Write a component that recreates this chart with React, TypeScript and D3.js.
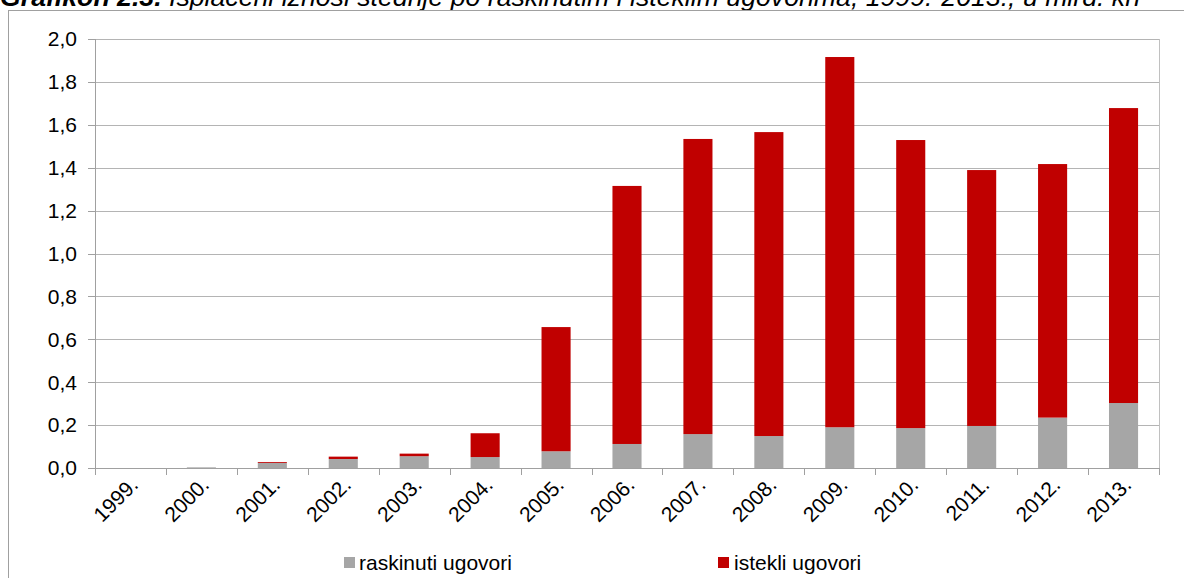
import React from "react";
import * as d3 from "d3";

const years = ["1999.", "2000.", "2001.", "2002.", "2003.", "2004.", "2005.", "2006.", "2007.", "2008.", "2009.", "2010.", "2011.", "2012.", "2013."];
const raskinuti = [0.0, 0.003, 0.024, 0.042, 0.055, 0.051, 0.078, 0.112, 0.158, 0.149, 0.19, 0.186, 0.196, 0.235, 0.303];
const istekli = [0.0, 0.0, 0.004, 0.011, 0.012, 0.111, 0.579, 1.203, 1.376, 1.417, 1.726, 1.343, 1.193, 1.182, 1.375];
const yTicks = [0, 0.2, 0.4, 0.6, 0.8, 1.0, 1.2, 1.4, 1.6, 1.8, 2.0];
const seriesNames = ["raskinuti ugovori", "istekli ugovori"];
const colors = ["#A6A6A6", "#C00000"];
const title = "Grafikon 2.3.";
const subtitle = " Isplaćeni iznosi štednje po raskinutim i isteklim ugovorima, 1999.-2013., u mlrd. kn";

export default function App() {
  const W = 1184, H = 578;
  const left = 95, right = 1159, top = 39, bottom = 468;
  const x = d3.scaleBand<string>().domain(years).range([left, right]).paddingInner(0.59).paddingOuter(0.295);
  const band = d3.scaleBand<string>().domain(years).range([left, right]);
  const y = d3.scaleLinear().domain([0, 2]).range([bottom, top]);
  const fmt = (v: number) => d3.format(".1f")(v).replace(".", ",");
  const font = "Liberation Sans, Arial, sans-serif";

  return (
    <svg width={W} height={H} style={{ position: "absolute", left: 0, top: 0 }} fontFamily={font}>
      <rect x={0} y={0} width={W} height={H} fill="#fff" />
      <text x={0} y={6} fontSize={26} fontStyle="italic" textLength={1140} lengthAdjust="spacingAndGlyphs">
        <tspan fontWeight="bold">{title}</tspan>
        <tspan>{subtitle}</tspan>
      </text>
      <rect x={8.5} y={10.5} width={1200} height={600} fill="none" stroke="#a0a0a0" strokeWidth={1} />
      {yTicks.map((t) => (
        <g key={t}>
          {t > 0 && <line x1={left} x2={right} y1={Math.round(y(t)) + 0.5} y2={Math.round(y(t)) + 0.5} stroke="#b4b4b4" />}
          <line x1={left - 7} x2={left} y1={Math.round(y(t)) + 0.5} y2={Math.round(y(t)) + 0.5} stroke="#a0a0a0" />
          <text x={77} y={y(t)} dy="0.35em" textAnchor="end" fontSize={21} fill="#000">{fmt(t)}</text>
        </g>
      ))}
      <line x1={right + 0.5} x2={right + 0.5} y1={top} y2={bottom} stroke="#c0c0c0" />
      {years.map((yr, i) => {
        const bx = x(yr)!;
        const bw = x.bandwidth();
        const y0 = y(raskinuti[i]);
        const y1 = y(raskinuti[i] + istekli[i]);
        return (
          <g key={yr}>
            <rect x={bx} y={y0} width={bw} height={bottom - y0} fill={colors[0]} />
            <rect x={bx} y={y1} width={bw} height={y0 - y1} fill={colors[1]} />
          </g>
        );
      })}
      <line x1={left + 0.5} x2={left + 0.5} y1={top} y2={bottom} stroke="#a0a0a0" />
      <line x1={left} x2={right} y1={bottom + 0.5} y2={bottom + 0.5} stroke="#a0a0a0" />
      {years.concat(["end"]).map((yr, i) => {
        const tx = Math.round(left + i * band.step()) + 0.5;
        return <line key={"t" + i} x1={tx} x2={tx} y1={bottom} y2={bottom + 7} stroke="#a0a0a0" />;
      })}
      {years.map((yr) => {
        const cx = band(yr)! + band.bandwidth() / 2;
        return (
          <text key={"l" + yr} transform={`translate(${cx + 9},${486}) rotate(-45)`} textAnchor="end" fontSize={21} fill="#000">{yr}</text>
        );
      })}
      <rect x={344} y={557} width={11} height={11} fill={colors[0]} />
      <text x={359} y={570} fontSize={21} fill="#000">{seriesNames[0]}</text>
      <rect x={718} y={557} width={11} height={11} fill={colors[1]} />
      <text x={734} y={570} fontSize={21} fill="#000">{seriesNames[1]}</text>
    </svg>
  );
}
